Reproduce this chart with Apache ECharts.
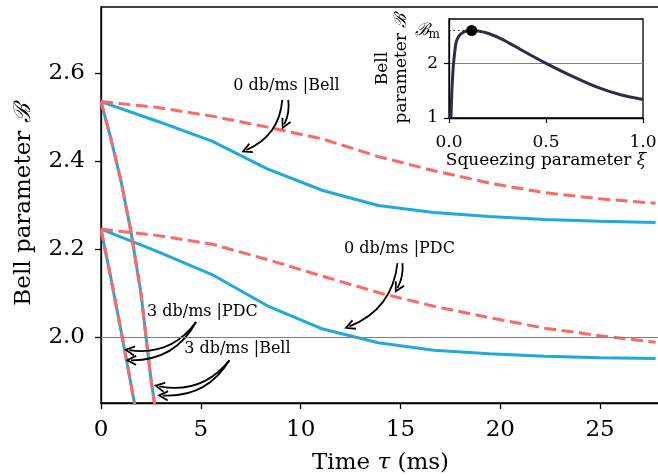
<!DOCTYPE html>
<html><head><meta charset="utf-8">
<script src="https://cdn.jsdelivr.net/npm/echarts@6/dist/echarts.min.js"></script>
<style>html,body{margin:0;padding:0;background:#fff}#c{width:658px;height:476px}</style>
</head><body><div id="c"></div>
<script>
// ---- data ----
const timeMs    = [0, 2.78, 5.56, 8.33, 11.11, 13.89, 16.67, 19.44, 22.22, 25.0, 27.78];
const bell0Blue = [2.535, 2.491, 2.445, 2.382, 2.333, 2.299, 2.283, 2.274, 2.267, 2.263, 2.260];
const bell0Red  = [2.535, 2.522, 2.502, 2.477, 2.450, 2.410, 2.378, 2.350, 2.328, 2.314, 2.304];
const pdc0Blue  = [2.245, 2.195, 2.142, 2.071, 2.018, 1.987, 1.970, 1.962, 1.956, 1.953, 1.951];
const pdc0Red   = [2.245, 2.231, 2.211, 2.176, 2.138, 2.101, 2.070, 2.044, 2.020, 2.003, 1.988];
const bell3Time = [0, 0.5, 1.0, 1.5, 2.0, 2.5, 3.0];
const bell3     = [2.535, 2.45, 2.355, 2.24, 2.10, 1.905, 1.75];
const pdc3Time  = [0, 0.5, 1.0, 1.5, 2.0];
const pdc3      = [2.245, 2.133, 2.015, 1.893, 1.77];
const xiVals    = [0.01, 0.015, 0.022, 0.03, 0.036, 0.045, 0.057, 0.07, 0.09, 0.117, 0.15, 0.2, 0.28, 0.38, 0.5, 0.62, 0.76, 0.88, 1.0];
const bellXi    = [1.0, 1.5, 1.94, 2.22, 2.37, 2.46, 2.52, 2.56, 2.59, 2.60, 2.59, 2.55, 2.43, 2.23, 2.0, 1.79, 1.57, 1.43, 1.34];
const xiPeak = 0.117, bellPeak = 2.60;
const xTicks = [0, 5, 10, 15, 20, 25];
const yTicks = [2.0, 2.2, 2.4, 2.6];
const insetXTicks = [0, 0.5, 1.0];
const insetYTicks = [1, 2];
const labelTexts = ['0 db/ms |Bell', '0 db/ms |PDC', '3 db/ms |PDC', '3 db/ms |Bell'];
const labelPos = [[9.29, 2.571], [14.95, 2.200], [5.08, 2.057], [6.83, 1.974]];
const arrows = [
  [[9.08, 2.539], [7.28, 2.425], 0.3],
  [[9.38, 2.539], [9.18, 2.483], 0.15],
  [[14.85, 2.168], [12.44, 2.024], 0.3],
  [[15.10, 2.168], [14.85, 2.111], 0.15],
  [[4.76, 2.034], [1.42, 1.970], 0.3],
  [[4.76, 2.034], [1.50, 1.947], 0.3],
  [[6.43, 1.947], [2.92, 1.888], 0.3],
  [[6.43, 1.947], [3.09, 1.867], 0.3]
];

// ---- styles ----
const FONT = 'DejaVu Serif';
const BLUE = '#1eaadc';
const RED = '#ff6666';
const NAVY = '#2e2d48';
const pairs = (xs, ys) => xs.map((x, i) => [x, ys[i]]);

const chart = echarts.init(document.getElementById('c'), null, {renderer: 'canvas'});

function lineSeries(name, xs, ys, color, dashed, z) {
  return {
    type: 'line', name, xAxisIndex: 0, yAxisIndex: 0, data: pairs(xs, ys),
    showSymbol: false, symbol: 'none', clip: true, z,
    lineStyle: {color, width: 3, type: dashed ? [12, 5.5] : 'solid', cap: 'butt'},
    animation: false
  };
}

const chevron = 'path://M0,14 L6,0 L12,14 L10.0,14.8 L6,4.8 L2.0,14.8 Z';

const option = {
  animation: false,
  backgroundColor: '#fff',
  grid: [
    {left: 101, top: 7, right: -2, bottom: 73, outerBoundsMode: 'none', containLabel: false,
     show: true, borderColor: '#000', borderWidth: 1.3, backgroundColor: 'transparent', z: 0},
    {left: 449, top: 19, width: 194, height: 99, outerBoundsMode: 'none', containLabel: false,
     show: true, borderColor: '#000', borderWidth: 1.3, backgroundColor: '#fff', z: 5}
  ],
  xAxis: [
    {type: 'value', gridIndex: 0, min: 0, max: 28,
     axisLine: {show: true, lineStyle: {color: '#000', width: 1.3}},
     axisTick: {show: true, length: 6, customValues: xTicks, lineStyle: {color: '#000', width: 1.3}},
     axisLabel: {customValues: xTicks, fontFamily: FONT, fontSize: 23, color: '#000', margin: 16},
     splitLine: {show: false},
     name: 'Time {i|τ} (ms)', nameLocation: 'middle', nameGap: 49,
     nameTextStyle: {fontFamily: FONT, fontSize: 23, color: '#000', rich: {i: {fontFamily: FONT, fontStyle: 'italic', fontSize: 23, color: '#000'}}}
    },
    {type: 'value', gridIndex: 1, min: 0, max: 1, z: 6,
     axisLine: {show: true, lineStyle: {color: '#000', width: 1.3}},
     axisTick: {show: true, length: 5, customValues: insetXTicks, lineStyle: {color: '#000', width: 1.2}},
     axisLabel: {customValues: insetXTicks, fontFamily: FONT, fontSize: 17, color: '#000', margin: 16, formatter: v => v.toFixed(1)},
     splitLine: {show: false},
     name: 'Squeezing parameter {i|ξ}', nameLocation: 'middle', nameGap: 32,
     nameTextStyle: {fontFamily: FONT, fontSize: 17, color: '#000', rich: {i: {fontFamily: FONT, fontStyle: 'italic', fontSize: 17, color: '#000'}}}
    }
  ],
  yAxis: [
    {type: 'value', gridIndex: 0, min: 1.85, max: 2.75,
     axisLine: {show: true, lineStyle: {color: '#000', width: 1.3}},
     axisTick: {show: true, length: 6, customValues: yTicks, lineStyle: {color: '#000', width: 1.3}},
     axisLabel: {customValues: yTicks, fontFamily: FONT, fontSize: 23, color: '#000', margin: 16, formatter: v => v.toFixed(1)},
     splitLine: {show: false},
     name: 'Bell parameter {c|ℬ}', nameLocation: 'middle', nameGap: 65,
     nameTextStyle: {fontFamily: FONT, fontSize: 23, color: '#000', rich: {c: {fontFamily: FONT, fontStyle: 'italic', fontSize: 23, color: '#000'}}}
    },
    {type: 'value', gridIndex: 1, min: 1, max: 2.81, z: 6,
     axisLine: {show: true, lineStyle: {color: '#000', width: 1.3}},
     axisTick: {show: true, length: 5, customValues: insetYTicks, lineStyle: {color: '#000', width: 1.2}},
     axisLabel: {customValues: insetYTicks, fontFamily: FONT, fontSize: 17, color: '#000', margin: 11},
     splitLine: {show: false},
     name: 'Bell\nparameter {c|ℬ}', nameLocation: 'middle', nameGap: 38,
     nameTextStyle: {fontFamily: FONT, fontSize: 17, color: '#000', lineHeight: 19, rich: {c: {fontFamily: FONT, fontStyle: 'italic', fontSize: 17, color: '#000'}}}
    }
  ],
  series: [
    // reference line at 2.0
    {type: 'line', xAxisIndex: 0, yAxisIndex: 0, data: [], z: 1, silent: true,
     markLine: {silent: true, symbol: 'none', label: {show: false}, animation: false,
       lineStyle: {color: '#808080', width: 1, type: 'solid'}, data: [{yAxis: 2.0}]}},
    lineSeries('bell0 blue', timeMs, bell0Blue, BLUE, false, 2),
    lineSeries('pdc0 blue', timeMs, pdc0Blue, BLUE, false, 2),
    lineSeries('bell3 blue', bell3Time, bell3, BLUE, false, 2),
    lineSeries('pdc3 blue', pdc3Time, pdc3, BLUE, false, 2),
    lineSeries('bell0 red', timeMs, bell0Red, RED, true, 3),
    lineSeries('pdc0 red', timeMs, pdc0Red, RED, true, 3),
    lineSeries('bell3 red', bell3Time, bell3, RED, true, 3),
    lineSeries('pdc3 red', pdc3Time, pdc3, RED, true, 3),
    // annotation arrows
    {type: 'lines', coordinateSystem: 'cartesian2d', xAxisIndex: 0, yAxisIndex: 0, z: 4, silent: true,
     symbol: ['none', chevron], symbolSize: [0, 11], animation: false,
     lineStyle: {color: '#000', width: 1.8, opacity: 1},
     data: arrows.map(a => ({coords: [a[0], a[1]], lineStyle: {curveness: a[2]}}))},
    // annotation texts
    {type: 'scatter', xAxisIndex: 0, yAxisIndex: 0, z: 4, symbolSize: 0, silent: true, animation: false,
     itemStyle: {opacity: 1, color: '#000'},
     data: labelPos.map((p, i) => ({value: p, label: {formatter: labelTexts[i]}})),
     label: {show: true, position: 'inside', fontFamily: FONT, fontSize: 16, color: '#000', opacity: 1, textBorderWidth: 0}},
    // inset
    {type: 'line', xAxisIndex: 1, yAxisIndex: 1, data: [], z: 6, silent: true,
     markLine: {silent: true, symbol: 'none', label: {show: false}, animation: false,
       lineStyle: {color: '#808080', width: 1, type: 'solid'}, data: [{yAxis: 2}]}},
    {type: 'line', xAxisIndex: 1, yAxisIndex: 1, data: pairs(xiVals, bellXi), z: 7, smooth: 0.3,
     showSymbol: false, symbol: 'none', clip: true, animation: false,
     lineStyle: {color: NAVY, width: 3},
     markLine: {silent: true, symbol: 'none', label: {show: false}, animation: false,
       lineStyle: {color: '#000', width: 1.2, type: [1.5, 3]},
       data: [[{coord: [0, bellPeak]}, {coord: [xiPeak, bellPeak]}]]}},
    {type: 'scatter', xAxisIndex: 1, yAxisIndex: 1, z: 8, animation: false, silent: true,
     data: [[xiPeak, bellPeak]], symbolSize: 11, itemStyle: {color: '#000', opacity: 1}},
    {type: 'scatter', xAxisIndex: 1, yAxisIndex: 1, z: 8, animation: false, silent: true,
     data: [[0, bellPeak]], symbolSize: 0, itemStyle: {opacity: 1},
     label: {show: true, position: 'left', distance: 9, formatter: '{c|ℬ}{s|m}',
       rich: {c: {fontFamily: FONT, fontStyle: 'italic', fontSize: 17, color: '#000'},
              s: {fontFamily: FONT, fontSize: 12, color: '#000', verticalAlign: 'bottom', padding: [8, 0, 0, 0]}}}}
  ]
};
chart.setOption(option);
</script>
</body></html>
